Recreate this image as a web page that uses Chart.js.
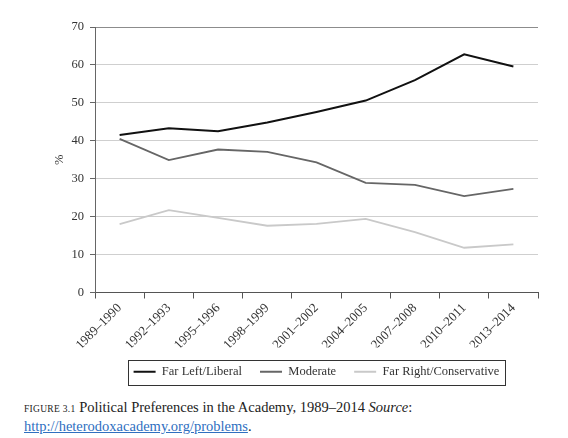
<!DOCTYPE html>
<html>
<head>
<meta charset="utf-8">
<script src="https://cdn.jsdelivr.net/npm/chart.js@4/dist/chart.umd.min.js"></script>
<style>
  body { margin: 0; background: #fff; }
  #wrap { position: relative; width: 568px; height: 392px; }
  #caption {
    margin: 7px 0 0 24px;
    font-family: "Liberation Serif", serif;
    font-size: 14.5px;
    line-height: 17px;
    color: #222;
  }
  #caption .fig { font-size: 9.5px; letter-spacing: 0.3px; }
  #caption a { color: #2f6fbf; text-decoration: underline; }
</style>
</head>
<body>
<div id="wrap"><canvas id="chart"></canvas></div>
<div id="caption"><span class="fig">FIGURE 3.1</span> Political Preferences in the Academy, 1989–2014 <i>Source</i>:<br><a href="#">http://heterodoxacademy.org/problems</a>.</div>
<script>
const years = ['1989–1990', '1992–1993', '1995–1996', '1998–1999', '2001–2002',
               '2004–2005', '2007–2008', '2010–2011', '2013–2014'];
const farLeft = [41.5, 43.3, 42.5, 44.8, 47.6, 50.6, 56.0, 62.8, 59.6];
const moderate = [40.5, 34.9, 37.7, 37.1, 34.3, 28.9, 28.4, 25.4, 27.3];
const farRight = [18.0, 21.7, 19.7, 17.6, 18.1, 19.4, 15.9, 11.8, 12.7];
const seriesNames = ['Far Left/Liberal', 'Moderate', 'Far Right/Conservative'];

const serif = '"Liberation Serif", serif';

// box round the legend
const legendBox = {
  id: 'legendBox',
  afterDraw(chart) {
    const boxes = chart.legend.legendHitBoxes;
    if (!boxes || !boxes.length) return;
    let l = Infinity, r = -Infinity, t = Infinity, b = -Infinity;
    boxes.forEach(h => {
      l = Math.min(l, h.left); r = Math.max(r, h.left + h.width);
      t = Math.min(t, h.top); b = Math.max(b, h.top + h.height);
    });
    const ctx = chart.ctx;
    ctx.save();
    ctx.strokeStyle = '#333';
    ctx.lineWidth = 1;
    ctx.strokeRect(Math.round(l - 6) + 0.5, Math.round(t - 6) + 0.5,
                   Math.round(r - l + 11), Math.round(b - t + 12));
    ctx.restore();
  }
};

new Chart(document.getElementById('chart'), {
  type: 'line',
  data: {
    labels: years,
    datasets: [
      { label: seriesNames[0], data: farLeft, borderColor: '#111', borderWidth: 2 },
      { label: seriesNames[1], data: moderate, borderColor: '#666', borderWidth: 1.8 },
      { label: seriesNames[2], data: farRight, borderColor: '#c9c9c9', borderWidth: 1.8 }
    ]
  },
  options: {
    responsive: true,
    maintainAspectRatio: false,
    animation: false,
    elements: { point: { radius: 0 }, line: { tension: 0 } },
    layout: { padding: { left: 52, right: 30, top: 27, bottom: 4 } },
    plugins: {
      tooltip: { enabled: false },
      legend: {
        position: 'bottom',
        fullSize: false,
        labels: {
          usePointStyle: true,
          pointStyle: 'line',
          pointStyleWidth: 22,
          boxHeight: 12,
          padding: 18,
          color: '#333',
          font: { family: serif, size: 12.5 }
        }
      }
    },
    scales: {
      x: {
        offset: true,
        border: { color: '#555' },
        grid: { drawOnChartArea: false, tickLength: 6, tickColor: '#555', offset: true },
        ticks: {
          maxRotation: 45, minRotation: 45, padding: 2,
          color: '#333', font: { family: serif, size: 13 }
        },
        afterFit(scale) { scale.height = 55; }
      },
      y: {
        min: 0, max: 70,
        border: { color: '#666' },
        grid: {
          color: ctx => ctx.tick && ctx.tick.value === 70 ? '#8c8c8c' : '#cfcfcf',
          tickColor: '#666',
          tickLength: 5
        },
        ticks: { stepSize: 10, padding: 6, color: '#333', font: { family: serif, size: 12.5 } },
        title: { display: true, text: '%', color: '#333', font: { family: serif, size: 12.5 }, padding: 0 },
        afterFit(scale) { scale.width = 43; }
      }
    }
  },
  plugins: [legendBox]
});
</script>
</body>
</html>
